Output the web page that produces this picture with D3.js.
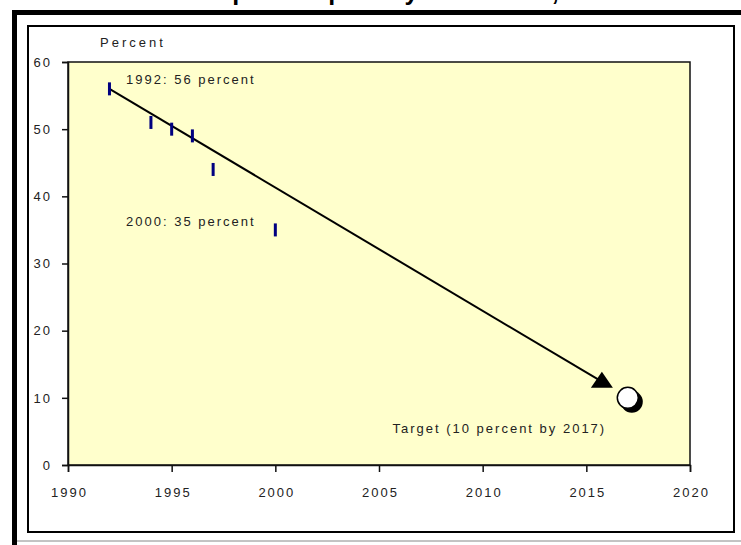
<!DOCTYPE html>
<html>
<head>
<meta charset="utf-8">
<script src="https://cdn.jsdelivr.net/npm/d3@7/dist/d3.min.js"></script>
<style>
  html, body { margin: 0; padding: 0; background: #ffffff; }
  svg { display: block; }
  text { font-family: "Liberation Sans", Arial, sans-serif; }
</style>
</head>
<body>
<script>
// Poverty headcount observations (percent of population)
const years = [1992, 1994, 1995, 1996, 1997, 2000];
const percents = [56, 51, 50, 49, 44, 35];

// Trend arrow: from the first observation towards the target
const trendStart = [1992, 56];
const trendEnd = [2015.75, 12.4];

// Target point
const targetYear = 2017;
const targetValue = 10;

// Axis ticks
const xTicks = [1990, 1995, 2000, 2005, 2010, 2015, 2020];
const yTicks = [0, 10, 20, 30, 40, 50, 60];

// Annotations: [year, value, text]
const notes = [
  [1992.8, 56.7, "1992: 56 percent"],
  [1992.8, 35.6, "2000: 35 percent"],
  [2005.65, 4.7, "Target (10 percent by 2017)"]
];

const titleText = "A drop in the poverty headcount, 1992\u20132017";

const W = 741, H = 545;
const svg = d3.select("body").append("svg").attr("width", W).attr("height", H);

// Title (sits above the frame, mostly outside the page top)
svg.append("text")
  .attr("x", 168).attr("y", -0.5)
  .attr("font-size", 25).attr("font-weight", "bold")
  .attr("fill", "#000")
  .text(titleText);

// Outer frame: heavy top and left rules, light bottom rule
svg.append("line").attr("x1", 12).attr("x2", W).attr("y1", 12.5).attr("y2", 12.5)
  .attr("stroke", "#000").attr("stroke-width", 5);
svg.append("line").attr("x1", 14.5).attr("x2", 14.5).attr("y1", 10).attr("y2", H)
  .attr("stroke", "#000").attr("stroke-width", 5);
svg.append("line").attr("x1", 17).attr("x2", W).attr("y1", 541).attr("y2", 541)
  .attr("stroke", "#888").attr("stroke-width", 1);

// Inner chart box
svg.append("rect").attr("x", 28).attr("y", 26).attr("width", 706).attr("height", 506)
  .attr("fill", "#fff").attr("stroke", "#000").attr("stroke-width", 2);

const x = d3.scaleLinear().domain([1990, 2020]).range([68, 690]);
const y = d3.scaleLinear().domain([0, 60]).range([465, 62]);

// Plot area
svg.append("rect")
  .attr("x", x(1990)).attr("y", y(60))
  .attr("width", x(2020) - x(1990)).attr("height", y(0) - y(60))
  .attr("fill", "#ffffcc").attr("stroke", "#111").attr("stroke-width", 1.5);

// Axes
const yAxis = svg.append("g")
  .attr("transform", `translate(${x(1990)},0)`)
  .call(d3.axisLeft(y).tickValues(yTicks).tickSize(6).tickPadding(10).tickFormat(d3.format("d")));
const xAxis = svg.append("g")
  .attr("transform", `translate(0,${y(0)})`)
  .call(d3.axisBottom(x).tickValues(xTicks).tickSize(7).tickPadding(16).tickFormat(d3.format("d")));

[yAxis, xAxis].forEach(g => {
  g.select(".domain").attr("stroke", "#111").attr("stroke-width", 1.5);
  g.selectAll(".tick line").attr("stroke", "#111").attr("stroke-width", 1.5);
  g.selectAll(".tick text")
    .attr("font-size", 13).attr("fill", "#222")
    .attr("letter-spacing", 2)
    .attr("font-family", "\"Liberation Sans\", Arial, sans-serif");
});
xAxis.selectAll(".tick text").attr("dx", 1);

// Axis title
svg.append("text")
  .attr("x", 100).attr("y", 47)
  .attr("font-size", 13).attr("letter-spacing", 3).attr("fill", "#222")
  .text("Percent");

// Trend arrow line
svg.append("path")
  .datum([trendStart, trendEnd])
  .attr("d", d3.line().x(d => x(d[0])).y(d => y(d[1])))
  .attr("fill", "none").attr("stroke", "#000").attr("stroke-width", 2);

// Arrow head
const ax = x(trendEnd[0]), ay = y(trendEnd[1]);
svg.append("path")
  .attr("d", `M${ax},${ay - 10}L${ax + 11},${ay + 6}L${ax - 11},${ay + 6}Z`)
  .attr("fill", "#000");

// Observation markers
svg.append("g").selectAll("rect")
  .data(years.map((yr, i) => [yr, percents[i]]))
  .join("rect")
  .attr("x", d => x(d[0]) - 1.5)
  .attr("y", d => y(d[1]) - 6.5)
  .attr("width", 3).attr("height", 13)
  .attr("fill", "#000080");

// Target marker with drop shadow
svg.append("circle")
  .attr("cx", x(targetYear) + 4).attr("cy", y(targetValue) + 4).attr("r", 11)
  .attr("fill", "#000");
svg.append("circle")
  .attr("cx", x(targetYear)).attr("cy", y(targetValue)).attr("r", 10.5)
  .attr("fill", "#fff").attr("stroke", "#000").attr("stroke-width", 1.5);

// Annotations
svg.append("g").selectAll("text")
  .data(notes)
  .join("text")
  .attr("x", d => x(d[0])).attr("y", d => y(d[1]))
  .attr("font-size", 13).attr("letter-spacing", 2).attr("fill", "#222")
  .text(d => d[2]);
</script>
</body>
</html>
